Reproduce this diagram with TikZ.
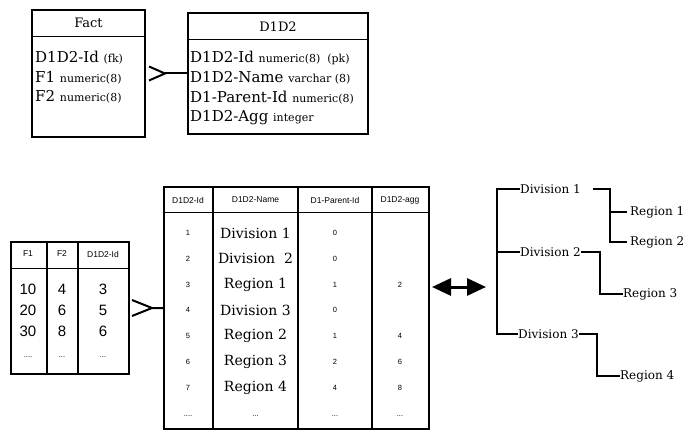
\documentclass[tikz,border=0pt]{standalone}
\usepackage{fontspec}
\setmainfont{DejaVu Serif}
\newfontfamily\sansf{Liberation Sans}
\usetikzlibrary{calc,arrows.meta}
\newcommand\smtype[1]{{\fontsize{11}{11}\selectfont #1}}
\begin{document}
\begin{tikzpicture}[x=1pt,y=-1pt,
  box/.style={draw, line width=2pt, anchor=north west, inner sep=0pt},
  rule/.style={line width=1pt},
  col/.style={line width=1.3pt},
  attr/.style={anchor=west, inner sep=0pt, font=\fontsize{15}{15}\selectfont},
  ttl/.style={inner sep=0pt, font=\fontsize{13}{13}\selectfont},
  hdr/.style={inner sep=0pt, font=\sansf\fontsize{8.5}{8.5}\selectfont},
  bignum/.style={inner sep=0pt, font=\sansf\fontsize{15}{15}\selectfont},
  tinynum/.style={inner sep=0pt, font=\sansf\fontsize{7.5}{7.5}\selectfont},
  nm/.style={inner sep=0pt, font=\fontsize{14}{14}\selectfont},
  tree/.style={anchor=west, inner sep=0pt, font=\fontsize{12}{12}\selectfont},
  link/.style={line width=2pt},
  foot/.style={line width=2pt},
]
\fill[white] (0,0) rectangle (685,430);
\useasboundingbox (0,0) rectangle (685,430);

% ---------- Fact entity ----------
\node[box, minimum width=113pt, minimum height=127pt] (fact) at (31,9) {};
\draw[rule] ($(fact.north west)+(0,28)$) -- ($(fact.north east)+(0,28)$);
\node[ttl] (factT) at ($(fact.north)+(0,14)$) {Fact};
\node[attr] (fa1) at (35,58) {D1D2-Id \smtype{(fk)}};
\node[attr] (fa2) at (35,77.5) {F1 \smtype{numeric(8)}};
\node[attr] (fa3) at (35,97) {F2 \smtype{numeric(8)}};

% ---------- D1D2 entity ----------
\node[box, minimum width=180pt, minimum height=121pt] (d1d2) at (187,12) {};
\draw[rule] ($(d1d2.north west)+(0,28)$) -- ($(d1d2.north east)+(0,28)$);
\node[ttl] (dT) at ($(d1d2.north)+(0,15)$) {D1D2};
\node[attr] (da1) at (190,58) {D1D2-Id \smtype{numeric(8)\ \ (pk)}};
\node[attr] (da2) at (190,78) {D1D2-Name \smtype{varchar (8)}};
\node[attr] (da3) at (190,98) {D1-Parent-Id \smtype{numeric(8)}};
\node[attr] (da4) at (190,118) {D1D2-Agg \smtype{integer}};

% crow's foot (top)
\coordinate (cfa) at ($(fact.east)+(19,0)$);
\draw[link] (cfa) -- (d1d2.west);
\draw[foot] ($(cfa)+(-16,-7)$) -- (cfa) -- ($(cfa)+(-16,7)$);

% ---------- small fact table ----------
\node[box, minimum width=118pt, minimum height=132pt] (ftab) at (10,241) {};
\draw[col] (47,241) -- (47,373);
\draw[col] (78,241) -- (78,373);
\draw[rule] (10,269) -- (128,269);
\node[hdr] (fh1) at (28,254) {F1};
\node[hdr] (fh2) at (62,254) {F2};
\node[hdr] (fh3) at (103,254) {D1D2-Id};
\node[bignum] (f11) at (28,289) {10};
\node[bignum] (f12) at (62,289) {4};
\node[bignum] (f13) at (103,289) {3};
\node[bignum] (f21) at (28,310) {20};
\node[bignum] (f22) at (62,310) {6};
\node[bignum] (f23) at (103,310) {5};
\node[bignum] (f31) at (28,331) {30};
\node[bignum] (f32) at (62,331) {8};
\node[bignum] (f33) at (103,331) {6};
\node[tinynum] (f41) at (28,357) {....};
\node[tinynum] (f42) at (62,357) {...};
\node[tinynum] (f43) at (103,357) {...};

% ---------- dimension table ----------
\node[box, line width=2.4pt, minimum width=265pt, minimum height=242pt] (dtab) at (163,186) {};
\draw[col] (213,186) -- (213,428);
\draw[col] (298,186) -- (298,428);
\draw[col] (372,186) -- (372,428);
\draw[rule] (163,213) -- (428,213);
\node[hdr] (dh1) at (188,200) {D1D2-Id};
\node[hdr] (dh2) at (255.5,200) {D1D2-Name};
\node[hdr] (dh3) at (335,200) {D1-Parent-Id};
\node[hdr] (dh4) at (400,200) {D1D2-agg};

\node[tinynum] (i1) at (188,233) {1};
\node[nm] (n1) at (255.5,233) {Division 1};
\node[tinynum] (p1) at (335,233) {0};

\node[tinynum] (i2) at (188,258.8) {2};
\node[nm] (n2) at (255.5,258.8) {Division\ \ 2};
\node[tinynum] (p2) at (335,258.8) {0};

\node[tinynum] (i3) at (188,284.6) {3};
\node[nm] (n3) at (255.5,284.6) {Region 1};
\node[tinynum] (p3) at (335,284.6) {1};
\node[tinynum] (g3) at (400,284.6) {2};

\node[tinynum] (i4) at (188,310.4) {4};
\node[nm] (n4) at (255.5,310.4) {Division 3};
\node[tinynum] (p4) at (335,310.4) {0};

\node[tinynum] (i5) at (188,336.2) {5};
\node[nm] (n5) at (255.5,336.2) {Region 2};
\node[tinynum] (p5) at (335,336.2) {1};
\node[tinynum] (g5) at (400,336.2) {4};

\node[tinynum] (i6) at (188,362) {6};
\node[nm] (n6) at (255.5,362) {Region 3};
\node[tinynum] (p6) at (335,362) {2};
\node[tinynum] (g6) at (400,362) {6};

\node[tinynum] (i7) at (188,387.8) {7};
\node[nm] (n7) at (255.5,387.8) {Region 4};
\node[tinynum] (p7) at (335,387.8) {4};
\node[tinynum] (g7) at (400,387.8) {8};

\node[tinynum] (i8) at (188,416) {....};
\node[tinynum] (n8) at (255.5,416) {...};
\node[tinynum] (p8) at (335,416) {...};
\node[tinynum] (g8) at (400,416) {...};

% crow's foot (bottom)
\coordinate (cfb) at ($(ftab.east)+(22,0)$);
\draw[link] (cfb) -- (dtab.west);
\draw[foot] ($(cfb)+(-20,-8)$) -- (cfb) -- ($(cfb)+(-20,8)$);

% ---------- double arrow ----------
\coordinate (al) at (432,287);
\coordinate (ar) at (486,287);
\draw[line width=3pt, {Triangle[length=19pt,width=17pt]}-{Triangle[length=19pt,width=17pt]}] (al) -- (ar);

% ---------- hierarchy tree ----------
\node[tree] (dv1) at (520,189) {Division 1};
\node[tree] (dv2) at (520,252) {Division 2};
\node[tree] (dv3) at (518,334) {Division 3};
\node[tree, inner xsep=3pt] (rg1) at (627,212) {Region 1};
\node[tree, inner xsep=3pt] (rg2) at (627,242) {Region 2};
\node[tree] (rg3) at (623,294) {Region 3};
\node[tree] (rg4) at (620,376) {Region 4};

\coordinate (trunk) at (497,189);
\draw[link] (dv1.west) -- (trunk) -- (trunk |- dv3.west) -- (dv3.west);
\draw[link] (dv2.west) -- (trunk |- dv2.west);
\coordinate (b1) at (610,189);
\draw[link] ($(dv1.east)+(12,0)$) -- (b1) |- (rg2.west);
\draw[link] (b1 |- rg1.west) -- (rg1.west);
\coordinate (b2) at (600,252);
\draw[link] (dv2.east) -- (b2) |- (rg3.west);
\coordinate (b3) at (597,334);
\draw[link] (dv3.east) -- (b3) |- (rg4.west);
\end{tikzpicture}
\end{document}
